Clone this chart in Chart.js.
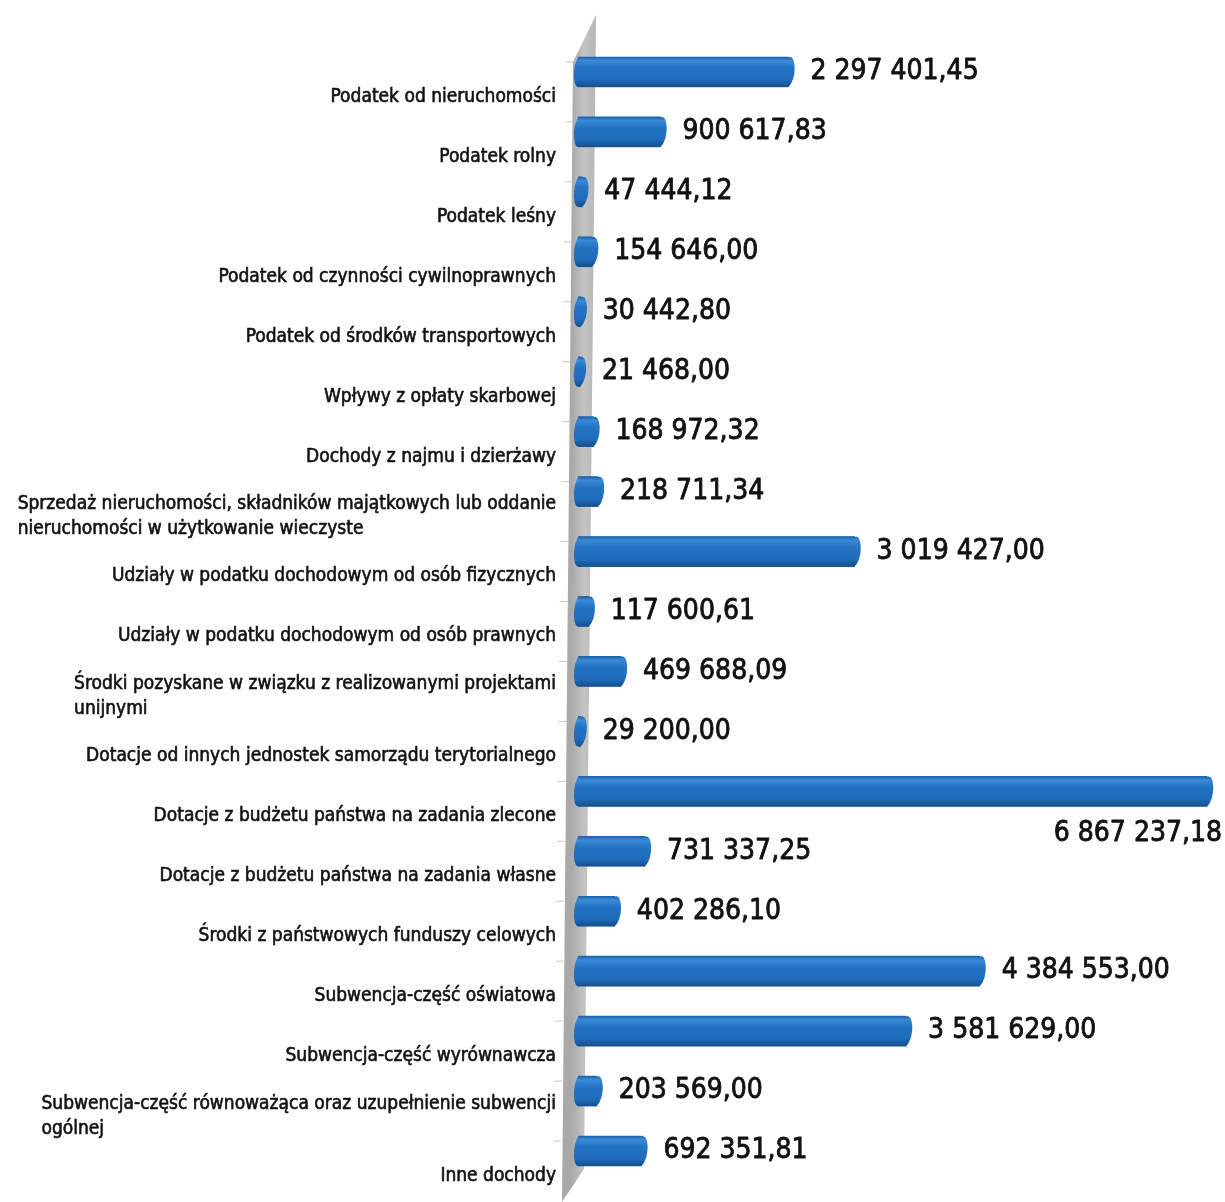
<!DOCTYPE html>
<html lang="pl">
<head>
<meta charset="utf-8">
<title>Dochody</title>
<script src="https://cdn.jsdelivr.net/npm/chart.js@4/dist/chart.umd.min.js"></script>
<style>
  html, body { margin: 0; padding: 0; background: #fff; }
  #wrap { position: relative; width: 1225px; height: 1202px; }
</style>
</head>
<body>
<div id="wrap"><canvas id="incomeChart"></canvas></div>
<script>
"use strict";

// categories (multi-line labels as arrays)
var categories = [
	"Podatek od nieruchomości",
	"Podatek rolny",
	"Podatek leśny",
	"Podatek od czynności cywilnoprawnych",
	"Podatek od środków transportowych",
	"Wpływy z opłaty skarbowej",
	"Dochody z najmu i dzierżawy",
	["Sprzedaż nieruchomości, składników majątkowych lub oddanie", "nieruchomości w użytkowanie wieczyste"],
	"Udziały w podatku dochodowym od osób fizycznych",
	"Udziały w podatku dochodowym od osób prawnych",
	["Środki pozyskane w związku z realizowanymi projektami", "unijnymi"],
	"Dotacje od innych jednostek samorządu terytorialnego",
	"Dotacje z budżetu państwa na zadania zlecone",
	"Dotacje z budżetu państwa na zadania własne",
	"Środki z państwowych funduszy celowych",
	"Subwencja-część oświatowa",
	"Subwencja-część wyrównawcza",
	["Subwencja-część równoważąca oraz uzupełnienie subwencji", "ogólnej"],
	"Inne dochody"
];

// amounts
var amounts = [
	2297401.45, 900617.83, 47444.12, 154646.00, 30442.80, 21468.00,
	168972.32, 218711.34, 3019427.00, 117600.61, 469688.09, 29200.00,
	6867237.18, 731337.25, 402286.10, 4384553.00, 3581629.00, 203569.00,
	692351.81
];

var xMax = 7030000;

var FONT = "'Liberation Sans Narrow', 'DejaVu Sans Condensed', 'Liberation Sans', sans-serif";

function formatPl(v) {
	var parts = v.toFixed(2).split(".");
	var intPart = parts[0].replace(/\B(?=(\d{3})+(?!\d))/g, " ");
	return intPart + "," + parts[1];
}

// slightly heavier text, like the scanned original
function heavyText(c, t, x, y, lw) {
	c.lineWidth = lw;
	c.strokeStyle = c.fillStyle;
	c.strokeText(t, x, y);
	c.fillText(t, x, y);
}

// gray 3D wall behind bars + little tick marks
var wallPlugin = {
	id: "wall",
	beforeDatasetsDraw: function(chart) {
		var c = chart.ctx, a = chart.chartArea;
		var L = a.left;
		c.save();
		var g = c.createLinearGradient(L - 6, 0, L + 18, 0);
		g.addColorStop(0, "#a9a9a9");
		g.addColorStop(0.5, "#c4c4c4");
		g.addColorStop(1, "#b5b5b5");
		c.fillStyle = g;
		c.beginPath();
		c.moveTo(L + 18, 15);
		c.lineTo(L + 6, a.bottom - 12);
		c.lineTo(L - 16, 1202);
		c.lineTo(L - 5, 62);
		c.closePath();
		c.fill();
		// tick marks
		var y = chart.scales.y;
		c.strokeStyle = "#c8c8c8";
		c.lineWidth = 1;
		for (var i = 0; i < categories.length; i++) {
			var py = y.getPixelForValue(i) - 10;
			var shift = (py - 62) / (a.bottom - 62) * 13;
			c.beginPath();
			c.moveTo(L - 12 - shift, py);
			c.lineTo(L - 4 - shift, py);
			c.stroke();
		}
		c.restore();
	}
};

// cylinder shading, end caps, value labels, category labels
var decorPlugin = {
	id: "decor",
	afterDatasetsDraw: function(chart) {
		var c = chart.ctx, a = chart.chartArea;
		var meta = chart.getDatasetMeta(0);
		var maxIdx = amounts.indexOf(Math.max.apply(null, amounts));
		c.save();
		meta.data.forEach(function(bar, i) {
			var h = bar.height, top = bar.y - h / 2;
			var g = c.createLinearGradient(0, top, 0, top + h);
			g.addColorStop(0, "#1a5fa8");
			g.addColorStop(0.12, "#3a8ad6");
			g.addColorStop(0.35, "#2474c4");
			g.addColorStop(0.75, "#1f6cbc");
			g.addColorStop(1, "#174f8c");
			// body shading
			c.fillStyle = g;
			c.fillRect(bar.base, top, bar.x - bar.base, h);
			// left round end
			c.beginPath();
			c.ellipse(bar.base + 1, bar.y, 5, h / 2, 0.08, 0, Math.PI * 2);
			c.fill();
			// right cap
			c.beginPath();
			c.ellipse(bar.x, bar.y, 6, h / 2, 0.12, 0, Math.PI * 2);
			c.fill();
			// value label
			c.fillStyle = "#111";
			c.font = "28px " + FONT;
			c.textBaseline = "middle";
			c.lineJoin = "round";
			if (i === maxIdx) {
				c.textAlign = "right";
				heavyText(c, formatPl(amounts[i]), a.right, bar.y + 42, 0.8);
			} else {
				c.textAlign = "left";
				heavyText(c, formatPl(amounts[i]), bar.x + 22, bar.y, 0.8);
			}
			// category label (block right aligned, lines left aligned)
			var lines = Array.isArray(categories[i]) ? categories[i] : [categories[i]];
			c.font = "19px " + FONT;
			c.textAlign = "left";
			var w = 0;
			lines.forEach(function(t) { w = Math.max(w, c.measureText(t).width); });
			var lh = 25;
			var y0 = bar.y + 25 - (lines.length - 1) * lh / 2;
			lines.forEach(function(t, k) {
				heavyText(c, t, 556 - w, y0 + k * lh, 0.6);
			});
		});
		c.restore();
	}
};

var ctx = document.getElementById("incomeChart");
var incomeChart = new Chart(ctx, {
	type: "bar",
	data: {
		labels: categories,
		datasets: [{
			label: "Dochody",
			data: amounts,
			backgroundColor: "#1f6dbe",
			borderWidth: 0,
			barThickness: 30
		}]
	},
	options: {
		indexAxis: "y",
		responsive: true,
		maintainAspectRatio: false,
		animation: false,
		layout: { padding: { top: 42, bottom: 21, left: 0, right: 3 } },
		plugins: {
			legend: { display: false },
			tooltip: { enabled: false }
		},
		scales: {
			x: {
				display: false,
				min: 0,
				max: xMax
			},
			y: {
				grid: { display: false },
				border: { display: false },
				ticks: { display: false },
				afterFit: function(scale) { scale.width = 578; }
			}
		}
	},
	plugins: [wallPlugin, decorPlugin]
});
</script>
</body>
</html>
